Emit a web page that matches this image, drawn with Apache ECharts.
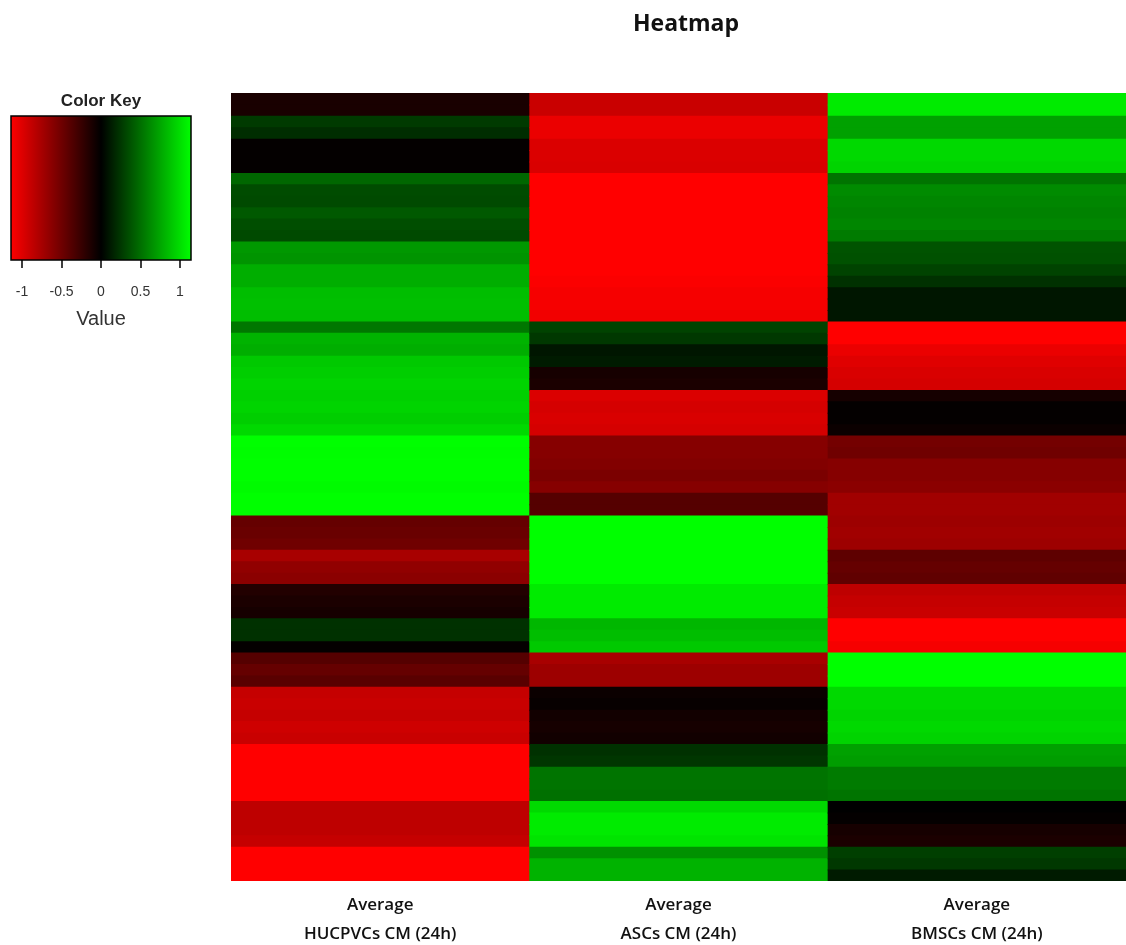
<!DOCTYPE html>
<html>
<head>
<meta charset="utf-8">
<script src="https://cdn.jsdelivr.net/npm/echarts@6/dist/echarts.min.js"></script>
<style>
  html, body { margin: 0; padding: 0; background: #ffffff; }
  #chart { width: 1126px; height: 945px; }
</style>
</head>
<body>
<div id="chart"></div>
<script>
// Column groups (conditioned media)
const groups = [
  'Average\nHUCPVCs CM (24h)',
  'Average\nASCs CM (24h)',
  'Average\nBMSCs CM (24h)'
];

// Row-scaled expression, one value per row, top to bottom
const hucpvcs = [
  -0.11, -0.11, 0.26, 0.20, -0.02, -0.02, -0.02, 0.46, 0.34, 0.33,
  0.40, 0.35, 0.33, 0.68, 0.66, 0.78, 0.78, 0.85, 0.86, 0.85,
  0.53, 0.80, 0.78, 0.90, 0.92, 0.95, 0.93, 0.95, 0.92, 0.97,
  1.14, 1.13, 1.14, 1.14, 1.12, 1.14, 1.14, -0.45, -0.47, -0.50,
  -0.75, -0.65, -0.62, -0.15, -0.12, -0.10, 0.22, 0.22, -0.02, -0.38,
  -0.45, -0.40, -0.88, -0.90, -0.88, -0.92, -0.90, -1.14, -1.14, -1.14,
  -1.14, -1.14, -0.85, -0.85, -0.85, -0.88, -1.14, -1.14, -1.14
];
const ascs = [
  -0.90, -0.90, -1.05, -1.05, -0.98, -0.98, -0.97, -1.14, -1.14, -1.14,
  -1.14, -1.14, -1.14, -1.14, -1.14, -1.14, -1.12, -1.10, -1.10, -1.08,
  0.30, 0.25, 0.10, 0.12, -0.10, -0.12, -0.98, -0.95, -0.97, -0.95,
  -0.60, -0.60, -0.58, -0.55, -0.60, -0.38, -0.38, 1.14, 1.14, 1.14,
  1.14, 1.14, 1.14, 1.05, 1.05, 1.05, 0.82, 0.85, 0.90, -0.75,
  -0.70, -0.70, -0.05, -0.03, -0.08, -0.10, -0.08, 0.22, 0.24, 0.52,
  0.52, 0.50, 0.97, 1.05, 1.05, 1.02, 0.65, 0.80, 0.80
];
const bmscs = [
  1.05, 1.05, 0.72, 0.72, 0.97, 0.97, 0.95, 0.52, 0.62, 0.60,
  0.58, 0.60, 0.55, 0.37, 0.36, 0.30, 0.22, 0.10, 0.10, 0.10,
  -1.14, -1.14, -1.05, -1.00, -0.97, -0.95, -0.10, -0.02, -0.02, -0.05,
  -0.52, -0.50, -0.60, -0.60, -0.62, -0.72, -0.72, -0.70, -0.72, -0.70,
  -0.42, -0.45, -0.43, -0.85, -0.88, -0.90, -1.14, -1.14, -1.10, 1.14,
  1.14, 1.14, 0.97, 0.97, 0.95, 0.97, 0.95, 0.72, 0.70, 0.55,
  0.55, 0.52, 0.00, -0.02, -0.10, -0.12, 0.28, 0.25, 0.12
];

// Colour key scale
const keyMin = -1.14;
const keyMax = 1.14;
const keyTicks = [-1, -0.5, 0, 0.5, 1];
const palette = ['#ff0000', '#000000', '#00ff00'];

const columns = [hucpvcs, ascs, bmscs];
const rowIds = hucpvcs.map((_, i) => String(i + 1));
const nCols = columns.length;
const nRows = rowIds.length;
const cells = [];
columns.forEach((vals, c) => {
  vals.forEach((v, r) => cells.push([c, r, v]));
});

// Cells are drawn as rects that overlap the next row/column by a pixel,
// so no white seams appear at fractional band edges.
function renderCell(params, api) {
  const c = api.value(0);
  const r = api.value(1);
  const center = api.coord([c, r]);
  const size = api.size([1, 1]);
  const w = size[0] + (c < nCols - 1 ? 1 : 0);
  const h = size[1] + (r < nRows - 1 ? 1 : 0);
  return {
    type: 'rect',
    shape: { x: center[0] - size[0] / 2, y: center[1] - size[1] / 2, width: w, height: h },
    style: { fill: api.visual('color') }
  };
}

const chart = echarts.init(document.getElementById('chart'));
chart.setOption({
  backgroundColor: '#ffffff',
  animation: false,
  title: {
    text: 'Heatmap',
    left: 681,
    textAlign: 'center',
    top: 8,
    textStyle: { fontFamily: 'Open Sans', fontWeight: 'bold', fontSize: 23, color: '#111111' }
  },
  graphic: [
    {
      type: 'text', x: 101, y: 93,
      style: {
        text: 'Color Key', textAlign: 'center', fontFamily: 'Liberation Sans',
        fontWeight: 'bold', fontSize: 17, fill: '#222222'
      }
    }
  ],
  grid: [
    { left: 231, top: 93, width: 895, height: 788, outerBoundsMode: 'none', containLabel: false },
    { left: 11, top: 116, width: 180, height: 144, outerBoundsMode: 'none', containLabel: false }
  ],
  xAxis: [
    {
      type: 'category', gridIndex: 0, data: groups,
      axisLine: { show: false }, axisTick: { show: false },
      axisLabel: {
        margin: 10, lineHeight: 29, fontFamily: 'Open Sans', fontWeight: 600,
        fontSize: 17, color: '#111111'
      }
    },
    {
      type: 'value', gridIndex: 1, min: keyMin, max: keyMax,
      splitLine: { show: false },
      axisLine: { show: false },
      axisTick: { show: true, length: 8, customValues: keyTicks, lineStyle: { color: '#000000', width: 1.5 } },
      axisLabel: {
        customValues: keyTicks, margin: 25, fontFamily: 'Liberation Sans', fontSize: 14, color: '#333333',
        formatter: v => String(v)
      },
      name: 'Value', nameLocation: 'middle', nameGap: 49,
      nameTextStyle: { fontFamily: 'Liberation Sans', fontSize: 20, color: '#333333' }
    }
  ],
  yAxis: [
    { type: 'category', gridIndex: 0, data: rowIds, inverse: true, show: false },
    { type: 'value', gridIndex: 1, min: 0, max: 1, show: false }
  ],
  visualMap: {
    show: false, type: 'continuous', seriesIndex: 0, dimension: 2,
    min: keyMin, max: keyMax, inRange: { color: palette }
  },
  series: [
    {
      type: 'custom', xAxisIndex: 0, yAxisIndex: 0, data: cells,
      silent: true, renderItem: renderCell,
      encode: { x: 0, y: 1 }
    },
    {
      type: 'custom', xAxisIndex: 1, yAxisIndex: 1, data: [[keyMin, keyMax]],
      silent: true,
      renderItem: (params, api) => {
        const p0 = api.coord([api.value(0), 1]);
        const p1 = api.coord([api.value(1), 0]);
        return {
          type: 'rect',
          shape: { x: p0[0], y: p0[1], width: p1[0] - p0[0], height: p1[1] - p0[1] },
          style: {
            fill: new echarts.graphic.LinearGradient(0, 0, 1, 0, [
              { offset: 0, color: palette[0] },
              { offset: 0.5, color: palette[1] },
              { offset: 1, color: palette[2] }
            ]),
            stroke: '#000000', lineWidth: 1.5
          }
        };
      }
    }
  ]
});
</script>
</body>
</html>
